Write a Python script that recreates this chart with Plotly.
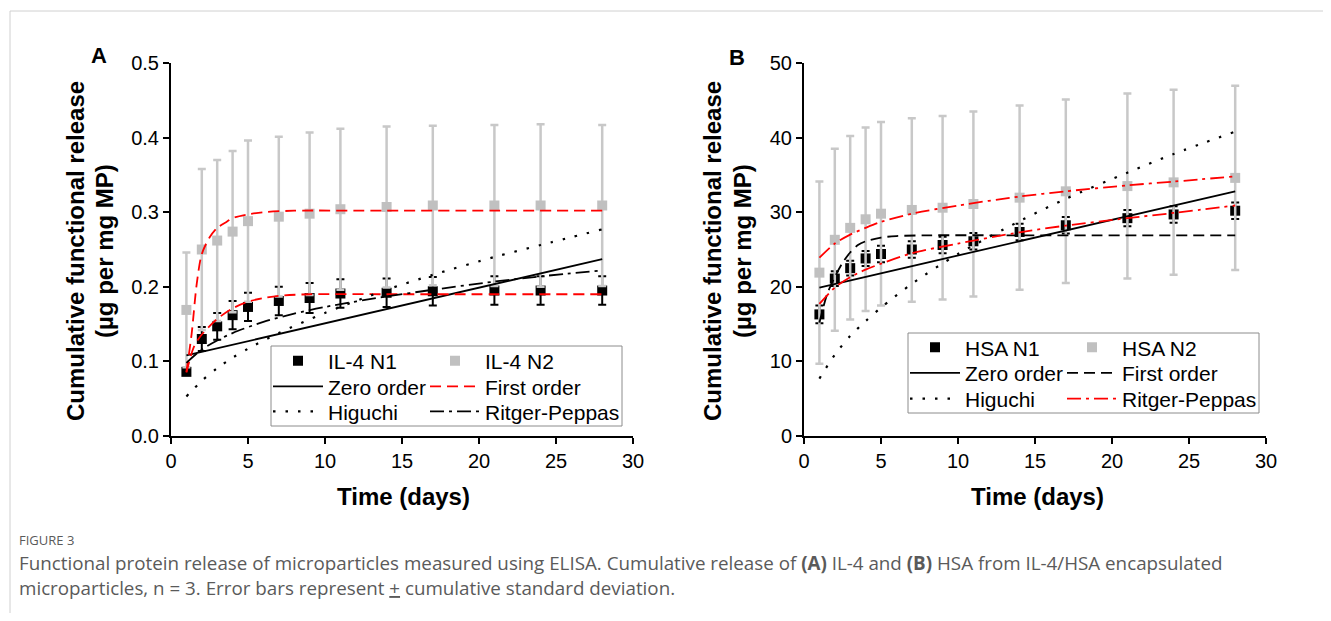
import plotly.graph_objects as go

# ---------------- data ----------------
days = [1, 2, 3, 4, 5, 7, 9, 11, 14, 17, 21, 24, 28]

il4_n1 = [0.086, 0.130, 0.147, 0.162, 0.173, 0.181, 0.185, 0.191, 0.192, 0.194, 0.195, 0.195, 0.195]
il4_n1_sd = [0.004, 0.016, 0.018, 0.019, 0.019, 0.019, 0.020, 0.019, 0.019, 0.019, 0.019, 0.019, 0.019]
il4_n2 = [0.169, 0.250, 0.262, 0.274, 0.288, 0.294, 0.298, 0.304, 0.307, 0.309, 0.309, 0.309, 0.309]
il4_n2_sd = [0.077, 0.108, 0.108, 0.108, 0.108, 0.107, 0.109, 0.108, 0.108, 0.107, 0.108, 0.109, 0.108]

hsa_n1 = [16.3, 21.1, 22.5, 23.8, 24.4, 25.0, 25.6, 26.1, 27.35, 28.25, 29.2, 29.7, 30.2]
hsa_n1_sd = [1.2, 1.0, 1.0, 1.0, 1.1, 1.1, 1.1, 1.1, 1.1, 1.1, 1.1, 1.1, 1.1]
hsa_n2 = [21.9, 26.3, 27.9, 29.05, 29.8, 30.3, 30.6, 31.1, 31.95, 32.8, 33.5, 34.0, 34.6]
hsa_n2_sd = [12.2, 12.2, 12.3, 12.3, 12.3, 12.3, 12.3, 12.4, 12.35, 12.3, 12.4, 12.4, 12.35]

# fitted model curves
a_zero_t = [1, 28]
a_zero_y = [0.108, 0.237]
a_first_n1_t = [1, 1.5, 2, 3, 4, 5, 6, 7, 9, 14, 21, 28]
a_first_n1_y = [0.085, 0.120, 0.136, 0.157, 0.171, 0.180, 0.185, 0.188, 0.190, 0.190, 0.190, 0.190]
a_first_n2_t = [1, 1.34, 1.67, 2, 2.5, 3, 3.6, 4, 5, 6, 8, 14, 21, 28]
a_first_n2_y = [0.086, 0.137, 0.204, 0.244, 0.266, 0.279, 0.287, 0.292, 0.297, 0.300, 0.302, 0.302, 0.302, 0.302]
a_higuchi_t = [1, 2, 3, 4, 5, 7, 10, 14, 17, 21, 24, 28]
a_higuchi_y = [0.053, 0.074, 0.091, 0.105, 0.117, 0.138, 0.165, 0.196, 0.216, 0.240, 0.256, 0.277]
a_rp_t = [1, 2, 3, 4, 6, 8, 10, 14, 17, 21, 24, 28]
a_rp_y = [0.098, 0.116, 0.128, 0.138, 0.153, 0.164, 0.173, 0.187, 0.196, 0.207, 0.214, 0.222]

b_zero_t = [1, 28]
b_zero_y = [19.9, 32.8]
b_first_t = [1, 1.5, 2, 2.5, 3, 3.5, 4, 5, 6, 8, 14, 21, 28]
b_first_y = [15.2, 19.0, 21.3, 23.2, 24.6, 25.6, 26.1, 26.6, 26.8, 26.9, 26.9, 26.9, 26.9]
b_higuchi_t = [1, 2, 3, 4, 5, 7, 10, 14, 17, 21, 24, 28]
b_higuchi_y = [7.7, 10.9, 13.4, 15.4, 17.2, 20.4, 24.4, 28.8, 31.8, 35.3, 37.8, 40.8]
b_rp_n1_t = [1, 2, 3, 4, 5, 7, 10, 14, 17, 21, 24, 28]
b_rp_n1_y = [17.7, 19.9, 21.3, 22.3, 23.1, 24.5, 25.8, 27.3, 28.2, 29.2, 29.9, 30.9]
b_rp_n2_t = [1, 2, 3, 4, 5, 7, 10, 14, 17, 21, 24, 28]
b_rp_n2_y = [23.9, 25.8, 27.0, 27.9, 28.7, 29.8, 30.9, 32.1, 32.8, 33.6, 34.1, 34.8]

x_ticks = [0, 5, 10, 15, 20, 25, 30]
a_y_ticks = [0.0, 0.1, 0.2, 0.3, 0.4, 0.5]
b_y_ticks = [0, 10, 20, 30, 40, 50]

# ---------------- styling ----------------
FONT = "Liberation Sans, Arial, Helvetica, sans-serif"
OFF = 8  # page body margin
W, H = 1331 - 2 * OFF, 621 - 2 * OFF
L, T = 171 - OFF, 63 - OFF
PW, PH = 1095, 373
R, B = W - L - PW, H - T - PH


def px(x):
    # reference-image x pixel -> paper coordinate
    return (x - OFF - L) / PW


def py(y):
    # reference-image y pixel -> paper coordinate
    return (T + PH - (y - OFF)) / PH


BLACK = "#000000"
GREY_MK = "#c0c0c0"
GREY_EB = "#c8c8c8"
RED = "#ff0000"

DOT = "2.5px,10px"
DASH = "11px,6px"
DASHDOT = "14px,5px,3px,5px"

fig = go.Figure()


def points(x, y, sd, name, color, ecolor, ethick, ewidth, xa, ya, leg):
    fig.add_trace(go.Scatter(
        x=x, y=y, mode="markers", name=name, xaxis=xa, yaxis=ya, legend=leg,
        showlegend=True,
        marker=dict(symbol="square", size=10, color=color, line=dict(width=0)),
        error_y=dict(type="data", array=sd, visible=True, color=ecolor,
                     thickness=ethick, width=ewidth),
    ))


def curve(x, y, name, color, dash, xa, ya, leg, show=True, width=1.8, spline=True):
    fig.add_trace(go.Scatter(
        x=x, y=y, mode="lines", name=name, xaxis=xa, yaxis=ya, legend=leg,
        showlegend=show,
        line=dict(color=color, dash=dash, width=width,
                  shape="spline" if spline else "linear", smoothing=0.8),
    ))


# Panel A
points(days, il4_n1, il4_n1_sd, "IL-4 N1", BLACK, BLACK, 2, 4, "x", "y", "legend")
points(days, il4_n2, il4_n2_sd, "IL-4 N2", GREY_MK, GREY_EB, 2.5, 4, "x", "y", "legend2")
curve(a_zero_t, a_zero_y, "Zero order", BLACK, "solid", "x", "y", "legend3", spline=False)
curve(a_first_n1_t, a_first_n1_y, "First order", RED, DASH, "x", "y", "legend4")
curve(a_first_n2_t, a_first_n2_y, "First order", RED, DASH, "x", "y", "legend4", show=False)
curve(a_higuchi_t, a_higuchi_y, "Higuchi", BLACK, DOT, "x", "y", "legend5", width=2.2)
curve(a_rp_t, a_rp_y, "Ritger-Peppas", BLACK, DASHDOT, "x", "y", "legend6")

# Panel B
points(days, hsa_n1, hsa_n1_sd, "HSA N1", BLACK, BLACK, 2, 4, "x2", "y2", "legend7")
points(days, hsa_n2, hsa_n2_sd, "HSA N2", GREY_MK, GREY_EB, 2.5, 4, "x2", "y2", "legend8")
curve(b_zero_t, b_zero_y, "Zero order", BLACK, "solid", "x2", "y2", "legend9", spline=False)
curve(b_first_t, b_first_y, "First order", BLACK, DASH, "x2", "y2", "legend10")
curve(b_higuchi_t, b_higuchi_y, "Higuchi", BLACK, DOT, "x2", "y2", "legend11", width=2.2)
curve(b_rp_n1_t, b_rp_n1_y, "Ritger-Peppas", RED, DASHDOT, "x2", "y2", "legend12")
curve(b_rp_n2_t, b_rp_n2_y, "Ritger-Peppas", RED, DASHDOT, "x2", "y2", "legend12", show=False)

axis_common = dict(
    showline=True, linecolor=BLACK, linewidth=2, ticks="outside", ticklen=6,
    tickwidth=2, tickcolor=BLACK, showgrid=False, zeroline=False,
    tickfont=dict(family=FONT, size=20, color=BLACK), fixedrange=True,
)

split_a = px(633)
split_b = px(804)

layout_axes = dict(
    xaxis=dict(domain=[0, split_a], range=[0, 30], tickvals=x_ticks, anchor="y", **axis_common),
    yaxis=dict(domain=[0, 1], range=[0, 0.5], tickvals=a_y_ticks, tickformat=".1f", anchor="x", **axis_common),
    xaxis2=dict(domain=[split_b, 1], range=[0, 30], tickvals=x_ticks, anchor="y2", **axis_common),
    yaxis2=dict(domain=[0, 1], range=[0, 50], tickvals=b_y_ticks, anchor="x2", **axis_common),
)


def cell_legend(x, y):
    return dict(
        orientation="h", x=px(x), y=py(y), xanchor="left", yanchor="middle",
        bgcolor="rgba(0,0,0,0)", borderwidth=0, itemwidth=50, visible=True,
        font=dict(family=FONT, size=21, color=BLACK), traceorder="normal",
    )


# legend cells: text start x = legend x + 60
a_cols = [268, 425]
a_rows = [361, 386.7, 411.7]
b_cols = [905, 1062]
b_rows = [347.7, 373.3, 399]
legends = {}
k = 1
for cols, rows in ((a_cols, a_rows), (b_cols, b_rows)):
    for r in rows:
        for c in cols:
            key = "legend" if k == 1 else f"legend{k}"
            legends[key] = cell_legend(c, r)
            k += 1

shapes = [
    # legend boxes
    dict(type="rect", xref="paper", yref="paper", x0=px(271), x1=px(622), y0=py(426), y1=py(346),
         line=dict(color="#8c8c8c", width=1), fillcolor="rgba(0,0,0,0)"),
    dict(type="rect", xref="paper", yref="paper", x0=px(908), x1=px(1259), y0=py(413), y1=py(333),
         line=dict(color="#8c8c8c", width=1), fillcolor="rgba(0,0,0,0)"),
    # outer frame
    dict(type="line", xref="paper", yref="paper", x0=px(10), x1=px(10), y0=py(11), y1=py(640),
         line=dict(color="#d0d0d0", width=1)),
    dict(type="line", xref="paper", yref="paper", x0=px(10), x1=px(1340), y0=py(11), y1=py(11),
         line=dict(color="#d0d0d0", width=1)),
]

TITLE_FONT = dict(family=FONT, size=24, color=BLACK)


def ann(text, x, y, font, xanchor="center", yanchor="middle", angle=0):
    return dict(text=text, xref="paper", yref="paper", x=px(x), y=py(y), showarrow=False,
                xanchor=xanchor, yanchor=yanchor, textangle=angle, font=font)


CAP_FONT = dict(family="Open Sans, Noto Sans, sans-serif", size=18.8, color="#5a5a5a")

annotations = [
    ann("<b>A</b>", 99, 56, dict(family=FONT, size=22, color=BLACK)),
    ann("<b>B</b>", 737, 57, dict(family=FONT, size=22, color=BLACK)),
    ann("<b>Cumulative functional release</b>", 75, 251, TITLE_FONT, angle=-90),
    ann("<b>(µg per mg MP)</b>", 104, 251, TITLE_FONT, angle=-90),
    ann("<b>Cumulative functional release</b>", 712, 251, TITLE_FONT, angle=-90),
    ann("<b>(µg per mg MP)</b>", 742, 251, TITLE_FONT, angle=-90),
    ann("<b>Time (days)</b>", 403, 497, TITLE_FONT),
    ann("<b>Time (days)</b>", 1037, 497, TITLE_FONT),
    ann("FIGURE 3", 17, 540, dict(family="Open Sans, Noto Sans, sans-serif", size=13, color="#5a5a5a"),
        xanchor="left"),
    ann("Functional protein release of microparticles measured using ELISA. Cumulative release of "
        "<b>(A)</b> IL-4 and <b>(B)</b> HSA from IL-4/HSA encapsulated", 17, 563, CAP_FONT, xanchor="left"),
    ann("microparticles, n = 3. Error bars represent <u>+</u> cumulative standard deviation.",
        17, 588, CAP_FONT, xanchor="left"),
]

fig.update_layout(
    width=W, height=H, margin=dict(l=L, r=R, t=T, b=B, autoexpand=False),
    paper_bgcolor="white", plot_bgcolor="white", showlegend=True,
    font=dict(family=FONT, color=BLACK),
    shapes=shapes, annotations=annotations,
    **layout_axes, **legends,
)

fig.write_html("out.html")
